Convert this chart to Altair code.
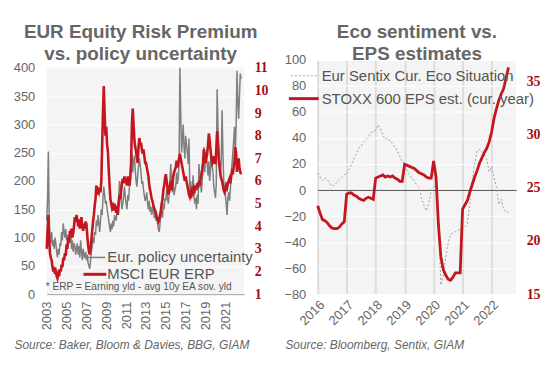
import altair as alt
import pandas as pd

# ---------------- data ----------------
# Left panel, monthly from Jan 2003
epu = [
    130, 170, 252, 130, 100, 90, 110, 85, 95, 80, 100, 90,       # 2003
    75, 65, 80, 70, 90, 85, 110, 95, 125, 110, 100, 115,         # 2004
    95, 105, 85, 100, 90, 110, 80, 95, 75, 90, 85, 70,           # 2005
    80, 90, 70, 85, 65, 95, 75, 60, 80, 70, 65, 75,              # 2006
    60, 70, 55, 50, 45, 60, 75, 85, 100, 90, 110, 105,           # 2007
    130, 120, 140, 125, 110, 130, 150, 140, 170, 190, 175, 160,  # 2008
    165, 150, 140, 130, 120, 110, 125, 115, 130, 120, 140, 135,  # 2009
    130, 145, 155, 170, 200, 185, 165, 150, 160, 175, 190, 170,  # 2010
    160, 150, 175, 165, 190, 210, 230, 250, 215, 235, 245, 220,  # 2011
    200, 190, 210, 225, 240, 230, 215, 195, 200, 185, 175, 165,  # 2012
    170, 180, 160, 150, 165, 145, 155, 140, 150, 160, 135, 145,  # 2013
    130, 140, 125, 115, 110, 125, 140, 150, 135, 160, 150, 170,  # 2014
    165, 185, 170, 160, 175, 205, 230, 195, 180, 200, 175, 185,  # 2015
    190, 215, 195, 205, 230, 400, 320, 250, 270, 300, 260, 240,  # 2016
    280, 265, 250, 230, 275, 185, 200, 170, 185, 210, 175, 160,  # 2017
    170, 150, 175, 160, 230, 210, 195, 180, 200, 225, 260, 215,  # 2018
    250, 240, 230, 210, 235, 200, 220, 250, 230, 215, 190, 180,  # 2019
    170, 195, 362, 300, 260, 230, 210, 235, 325, 250, 200, 185,  # 2020
    175, 160, 140, 170, 180, 165, 185, 210, 230, 250, 270, 296,  # 2021
    250, 300, 395, 340, 310, 350, 390, 380,                      # 2022
]
erp = [
    3.0, 3.8, 4.5, 3.4, 2.8, 2.6, 2.5, 2.2, 2.0, 2.2, 1.9, 2.0,
    1.8, 1.7, 1.9, 1.8, 2.1, 2.0, 2.3, 2.2, 2.6, 2.5, 2.8, 2.7,
    3.2, 3.0, 3.5, 3.3, 3.8, 3.6, 3.9, 3.5, 3.7, 4.0, 4.4, 4.2,
    4.5, 4.3, 4.0, 4.3, 3.9, 4.2, 4.4, 4.0, 3.8, 4.1, 3.9, 4.2,
    4.1, 3.6, 3.2, 2.9, 2.75, 3.0, 3.4, 3.8, 4.2, 4.5, 4.9, 5.2,
    5.8, 5.4, 5.6, 5.5, 5.7, 5.5, 6.0, 7.5, 9.0, 10.2, 9.0, 8.0,
    8.4, 7.6, 7.3, 6.5, 5.8, 5.2, 5.0, 4.8, 4.9, 4.7, 5.0, 4.8,
    4.6, 4.9, 4.5, 5.0, 5.4, 5.2, 5.6, 5.9, 6.1, 5.9, 6.2, 6.0,
    6.0, 5.8, 6.2, 5.9, 5.8, 6.1, 6.8, 8.5, 9.2, 8.5, 7.8, 7.5,
    7.3, 7.0, 6.8, 7.5, 7.9, 7.6, 7.7, 7.4, 7.2, 7.4, 7.1, 6.8,
    6.8, 6.6, 6.4, 6.2, 5.8, 5.6, 5.4, 5.2, 5.1, 4.9, 4.8, 4.7,
    4.6, 4.4, 4.3, 4.2, 4.3, 4.5, 4.7, 5.0, 5.2, 5.6, 5.8, 6.1,
    6.3, 6.0, 5.7, 5.4, 5.5, 5.8, 6.0, 5.6, 5.9, 6.2, 6.4, 6.5,
    6.6, 6.9, 6.6, 6.8, 7.0, 7.2, 7.0, 6.8, 6.6, 6.4, 6.2, 6.0,
    6.2, 6.0, 5.8, 5.6, 5.4, 5.3, 5.5, 5.4, 5.6, 5.5, 5.7, 5.6,
    5.8, 5.6, 5.9, 5.7, 6.0, 5.8, 6.1, 6.3, 6.5, 6.8, 7.4, 7.2,
    6.8, 7.0, 7.2, 7.6, 8.1, 7.8, 7.4, 7.0, 6.8, 6.9, 7.1, 6.8,
    6.8, 7.4, 8.2, 7.6, 7.0, 6.6, 6.3, 6.1, 6.0, 5.8, 5.6, 5.5,
    5.6, 5.8, 5.7, 5.9, 6.0, 6.1, 5.9, 6.2, 6.4, 6.3, 6.6, 6.9,
    7.5, 7.2, 6.4, 6.8, 7.0, 6.6, 6.4, 6.3,
]
# Right panel, monthly from Jan 2016
sentix = [
    13, 10, 7, 9, 8, 5, 3, 4, 6, 8, 10, 12,
    12, 16, 20, 24, 28, 32, 34, 37, 39, 41, 44, 45,
    46, 50, 47, 42, 39, 40, 37, 36, 33, 30, 26, 22,
    20, 15, 12, 9, 7, 4, 2, -6, -12, -16, -10, 0,
    2, 5, -20, -73, -65, -52, -41, -34, -33, -32, -31, -30,
    -30, -28, -26, -10, 8, 20, 30, 31, 30, 27, 24, 14,
    18, 10, 2, -11, -7, -15, -17, -17,
]
eps = [
    23.3, 22.6, 22.0, 21.9, 21.7, 21.4, 21.2, 21.15, 21.15, 21.3, 21.6, 21.8,
    24.4, 24.5, 24.5, 24.3, 24.2, 24.0, 23.9, 23.8, 24.0, 24.1, 24.0, 23.9,
    25.9, 26.0, 26.1, 26.2, 26.0, 26.1, 26.0, 26.1, 25.9, 25.8, 25.6, 25.6,
    27.2, 27.1, 27.0, 26.9, 26.8, 26.6, 26.4, 26.3, 26.2, 26.0, 25.9, 25.9,
    27.5, 26.0, 21.5, 18.5, 17.3, 16.8, 16.4, 16.3, 16.6, 17.0, 17.0, 17.0,
    23.0, 23.4, 23.8, 24.6, 25.3, 26.0, 26.6, 27.3, 27.8, 28.3, 28.7, 29.3,
    30.2, 31.5, 32.4, 33.2, 33.8, 34.3, 35.3, 36.3,
]
left_years = [2003, 2005, 2007, 2009, 2011, 2013, 2015, 2017, 2019, 2021]
right_years = [2016, 2017, 2018, 2019, 2020, 2021, 2022]
epu_ticks = [0, 50, 100, 150, 200, 250, 300, 350, 400]
erp_ticks = [1, 2, 3, 4, 5, 6, 7, 8, 9, 10, 11]
sentix_ticks = [-80, -60, -40, -20, 0, 20, 40, 60, 80, 100]
eps_ticks = [15, 20, 25, 30, 35]

left_title = ["EUR Equity Risk Premium", "vs. policy uncertainty"]
right_title = ["Eco sentiment vs.", "EPS estimates"]
left_source = "Source: Baker, Bloom & Davies, BBG, GIAM"
right_source = "Source: Bloomberg, Sentix, GIAM"
left_legend = ["Eur. policy uncertainty", "MSCI EUR ERP"]
left_note = "* ERP = Earning yld - avg 10y EA sov. yld"
right_legend = ["Eur Sentix Cur. Eco Situation", "STOXX 600 EPS est. (cur. year)"]


def monthly(start, vals, name):
    return pd.DataFrame({"t": [start + i / 12 for i in range(len(vals))], name: vals})


df_epu = monthly(2003, epu, "epu")
df_erp = monthly(2003, erp, "erp")
df_sen = monthly(2016, sentix, "sentix")
df_eps = monthly(2016, eps, "eps")
one = pd.DataFrame({"k": [0]})

FONT = "Liberation Sans"
TXT = "#666666"
GRAYL = "#7f7f7f"
RED = "#c3161e"
DRED = "#a30f12"

LH = 236      # panel height (both panels share the top edge)
LTOP = 8      # left panel's plot starts 8px lower


def src_axis(values, title, angle, pad, grid, gridcolor="#dddddd"):
    return alt.Axis(
        values=values, format="d", labelAngle=angle, labelColor=TXT, labelFontSize=13,
        labelPadding=pad, labelOverlap=False, ticks=False, domain=not grid,
        domainColor="#a0a0a0", grid=grid, gridColor=gridcolor, gridWidth=2,
        title=title, titleFontStyle="italic", titleFontWeight="normal",
        titleFontSize=12, titleColor=TXT, titleX=-33, titleY=51,
        titleAlign="left", titleBaseline="middle",
    )


def left_axis(values):
    return alt.Axis(values=values, labelColor=TXT, labelFontSize=13, labelPadding=12,
                    ticks=False, domain=False, gridColor="white", gridWidth=1, title=None)


def right_axis(values):
    return alt.Axis(values=values, orient="right", labelColor=DRED, labelFontSize=14,
                    labelFont="Liberation Serif", labelFontWeight="bold", labelPadding=10,
                    ticks=False, domain=False, grid=False, title=None)


def leg_rule(x1, x2, y, color, w, dash=None):
    kw = dict(color=color, strokeWidth=w)
    if dash:
        kw["strokeDash"] = dash
    return alt.Chart(one).mark_rule(**kw).encode(
        x=alt.value(x1), x2=alt.value(x2), y=alt.value(y))


def leg_text(x, y, txt, size=15, color="#555555"):
    return alt.Chart(one).mark_text(align="left", baseline="middle", fontSize=size,
                                    color=color, font=FONT).encode(
        x=alt.value(x), y=alt.value(y), text=alt.value(txt))


# ---------------- left panel ----------------
xl = alt.X("t:Q", scale=alt.Scale(domain=[2003, 2022.9], nice=False, zero=False),
           axis=src_axis(left_years, left_source, 270, 7, False))
erp_line = alt.Chart(df_erp).mark_line(color=RED, strokeWidth=2.6).encode(
    x=xl, y=alt.Y("erp:Q", scale=alt.Scale(domain=[1, 11], nice=False, zero=False,
                                            range=[LH, LTOP]),
                  axis=right_axis(erp_ticks)))
epu_line = alt.Chart(df_epu).mark_line(color=GRAYL, strokeWidth=1.5).encode(
    x=xl, y=alt.Y("epu:Q", scale=alt.Scale(domain=[0, 400], nice=False, range=[LH, LTOP]),
                  axis=left_axis(epu_ticks)))
top_mask = alt.Chart(one).mark_rect(color="white").encode(
    x=alt.value(0), x2=alt.value(199), y=alt.value(0), y2=alt.value(LTOP - 0.5))

left = alt.layer(
    top_mask, epu_line, erp_line,
    leg_rule(37, 59, 199, GRAYL, 1.5),
    leg_rule(37, 60, 216, RED, 3),
    leg_text(61, 199, left_legend[0]),
    leg_text(61, 216, left_legend[1]),
    leg_text(-1, 229, left_note, size=10.2),
).resolve_scale(y="independent").properties(
    width=199, height=LH,
    title=alt.Title(left_title, offset=-4, frame="bounds"),
)

# ---------------- right panel ----------------
xr = alt.X("t:Q", scale=alt.Scale(domain=[2016, 2022.85], nice=False, zero=False),
           axis=src_axis(right_years, right_source, 315, 4, True))
sen_axis = alt.Axis(values=sentix_ticks, labelColor=TXT, labelFontSize=13, labelPadding=12,
                    ticks=False, domain=False,
                    gridColor=alt.condition("datum.value == 0", alt.value("#555555"), alt.value("white")),
                    gridWidth=1, title=None)
sen_line = alt.Chart(df_sen).mark_line(color="#a0a0a0", strokeWidth=1, strokeDash=[2, 2]).encode(
    x=xr, y=alt.Y("sentix:Q", scale=alt.Scale(domain=[-80, 100], nice=False), axis=sen_axis))
eps_line = alt.Chart(df_eps).mark_line(color=RED, strokeWidth=2.8).encode(
    x=xr, y=alt.Y("eps:Q", scale=alt.Scale(domain=[15, 37], nice=False, zero=False),
                  axis=right_axis(eps_ticks)))

right = alt.layer(
    sen_line, eps_line,
    leg_rule(-27, 1, 16, "#a0a0a0", 1, [2, 2]),
    leg_rule(-29, 1, 39, RED, 3),
    leg_text(4, 16, right_legend[0]),
    leg_text(4, 39, right_legend[1]),
).resolve_scale(y="independent").properties(
    width=200, height=LH,
    title=alt.Title(right_title, offset=-10, frame="group"),
)

chart = alt.hconcat(left, right, spacing=15).properties(
    padding={"left": 5, "top": 14, "right": 5, "bottom": 5}
).configure_view(fill="#f4f4f4", strokeWidth=0).configure_title(
    font=FONT, fontSize=19, fontWeight="bold", color=TXT, lineHeight=22
).configure_axis(labelFont=FONT, titleFont=FONT)

chart.save("out.html", embed_options={"renderer": "svg", "actions": False})
